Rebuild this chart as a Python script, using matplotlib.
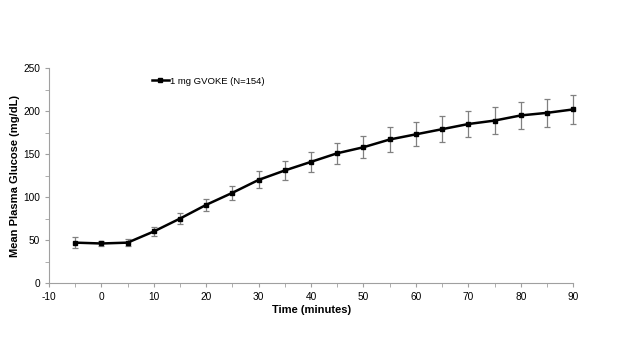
import matplotlib
matplotlib.use('Agg')
import matplotlib.pyplot as plt
import numpy as np
from matplotlib.ticker import MultipleLocator

plt.rcParams['font.family'] = ['Liberation Sans', 'DejaVu Sans']
plt.rcParams['axes.unicode_minus'] = False

time = [-5, 0, 5, 10, 15, 20, 25, 30, 35, 40, 45, 50, 55, 60, 65, 70, 75, 80, 85, 90]
glucose = [47, 46, 47, 60, 75, 91, 105, 120, 131, 141, 151, 158, 167, 173, 179, 185, 189, 195, 198, 202]
err = [6, 3, 4, 5, 6, 7, 8, 10, 11, 12, 12, 13, 14, 14, 15, 15, 16, 16, 16, 17]

fig = plt.figure(figsize=(6.24, 3.46), dpi=100)
ax = fig.add_axes([0.0785, 0.182, 0.84, 0.621])

eb = ax.errorbar(time, glucose, yerr=err, fmt='none', ecolor='#808080', elinewidth=0.9,
                 capsize=2, capthick=0.9, zorder=1)
for a in list(eb.lines[1]) + list(eb.lines[2]):
    a.set_clip_on(False)
ax.plot(time, glucose, color='black', lw=1.8, marker='s', ms=3.2, label='1 mg GVOKE (N=154)',
        zorder=2, clip_on=False)

ax.set_xlim(-10, 90)
ax.set_ylim(0, 250)
ax.xaxis.set_major_locator(MultipleLocator(10))
ax.xaxis.set_minor_locator(MultipleLocator(5))
ax.yaxis.set_major_locator(MultipleLocator(50))
ax.yaxis.set_minor_locator(MultipleLocator(25))
for s in ['top', 'right']:
    ax.spines[s].set_visible(False)
for s in ['left', 'bottom']:
    ax.spines[s].set_color('#a0a0a0')
ax.tick_params(which='both', colors='#a0a0a0', labelcolor='black', labelsize=7.3, length=3)

ax.set_xlabel('Time (minutes)', fontsize=8, fontweight='bold', labelpad=2)
ax.set_ylabel('Mean Plasma Glucose (mg/dL)', fontsize=8, fontweight='bold', labelpad=2)

ax.legend(loc='upper left', bbox_to_anchor=(0.18, 1.0), frameon=False, fontsize=6.8,
          handlelength=1.8, handletextpad=0.1)

fig.savefig('out.png', dpi=100)
